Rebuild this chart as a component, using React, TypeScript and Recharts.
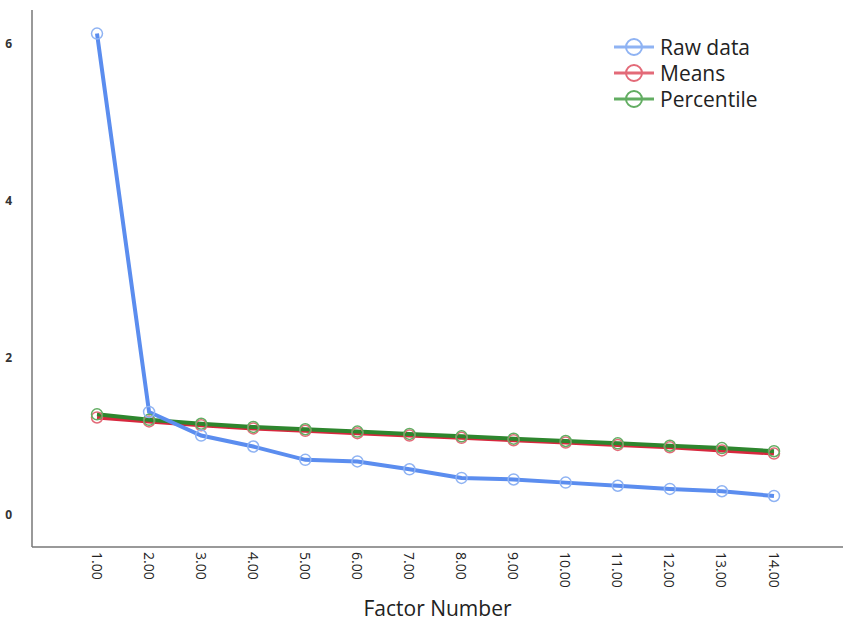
import { LineChart, Line, XAxis, YAxis, Legend, Label } from "recharts";

const factors = ["1.00", "2.00", "3.00", "4.00", "5.00", "6.00", "7.00", "8.00", "9.00", "10.00", "11.00", "12.00", "13.00", "14.00"];
const rawData = [6.13, 1.31, 1.01, 0.87, 0.7, 0.68, 0.58, 0.47, 0.45, 0.41, 0.37, 0.33, 0.3, 0.24];
const means = [1.24, 1.19, 1.14, 1.1, 1.07, 1.04, 1.01, 0.98, 0.95, 0.92, 0.89, 0.86, 0.82, 0.78];
const percentile = [1.28, 1.21, 1.16, 1.12, 1.09, 1.06, 1.03, 1.0, 0.97, 0.94, 0.91, 0.88, 0.85, 0.81];
const yTicks = [0, 2, 4, 6];

const series = [
  { key: "raw", name: "Raw data", color: "#5b8def", dotColor: "#8fb3f3" },
  { key: "means", name: "Means", color: "#d7283e", dotColor: "#e36a78" },
  { key: "pct", name: "Percentile", color: "#2e862e", dotColor: "#62ad62" },
];

const chartData = factors.map((f, i) => ({
  factor: f,
  raw: rawData[i],
  means: means[i],
  pct: percentile[i],
}));

const font = "'Open Sans', 'Liberation Sans', sans-serif";

const XTick = (props: any) => {
  const { x, y, payload } = props;
  return (
    <text
      transform={`translate(${x},${y - 3}) rotate(90)`}
      textAnchor="start"
      dominantBaseline="central"
      fontSize={14}
      fontFamily={font}
      fill="#222"
    >
      {payload.value}
    </text>
  );
};

const LegendBox = () => (
  <div style={{ fontFamily: font, fontSize: 21, color: "#222" }}>
    {series.map((s) => (
      <div key={s.key} style={{ display: "flex", alignItems: "center", height: 26 }}>
        <svg width={44} height={20} style={{ marginRight: 4 }}>
          <line x1={2} y1={10} x2={42} y2={10} stroke={s.dotColor} strokeWidth={3} />
          <circle cx={22} cy={10} r={8} fill="none" stroke={s.dotColor} strokeWidth={2} />
        </svg>
        <span>{s.name}</span>
      </div>
    ))}
  </div>
);

export default function App() {
  const order = ["means", "pct", "raw"];
  return (
    <div style={{ position: "absolute", left: 0, top: 0, width: 843, height: 632, background: "#fff" }}>
      <LineChart width={843} height={632} data={chartData} margin={{ top: 10, right: 0, left: 0, bottom: 0 }}>
        <XAxis
          dataKey="factor"
          type="category"
          padding={{ left: 65, right: 69 }}
          height={85}
          stroke="#777"
          strokeWidth={1.5}
          tickLine={false}
          tick={<XTick />}
          interval={0}
        >
          <Label
            value="Factor Number"
            position="insideBottom"
            offset={16}
            style={{ fontFamily: font, fontSize: 21, fill: "#222" }}
          />
        </XAxis>
        <YAxis
          width={32}
          domain={[-0.41, 6.43]}
          ticks={yTicks}
          allowDataOverflow
          stroke="#777"
          strokeWidth={1.5}
          tickLine={false}
          tickMargin={14}
          tick={{ fontSize: 12, fontWeight: 700, fill: "#333", fontFamily: font }}
        />
        <Legend
          layout="vertical"
          align="center"
          verticalAlign="middle"
          wrapperStyle={{ left: 612, top: 34, width: 200 }}
          content={<LegendBox />}
        />
        {order.map((k) => {
          const s = series.find((x) => x.key === k)!;
          return (
            <Line
              key={s.key}
              dataKey={s.key}
              name={s.name}
              type="linear"
              stroke={s.color}
              strokeWidth={4}
              dot={{ r: 5.5, fill: "none", stroke: s.dotColor, strokeWidth: 1.5 }}
              isAnimationActive={false}
            />
          );
        })}
      </LineChart>
    </div>
  );
}
